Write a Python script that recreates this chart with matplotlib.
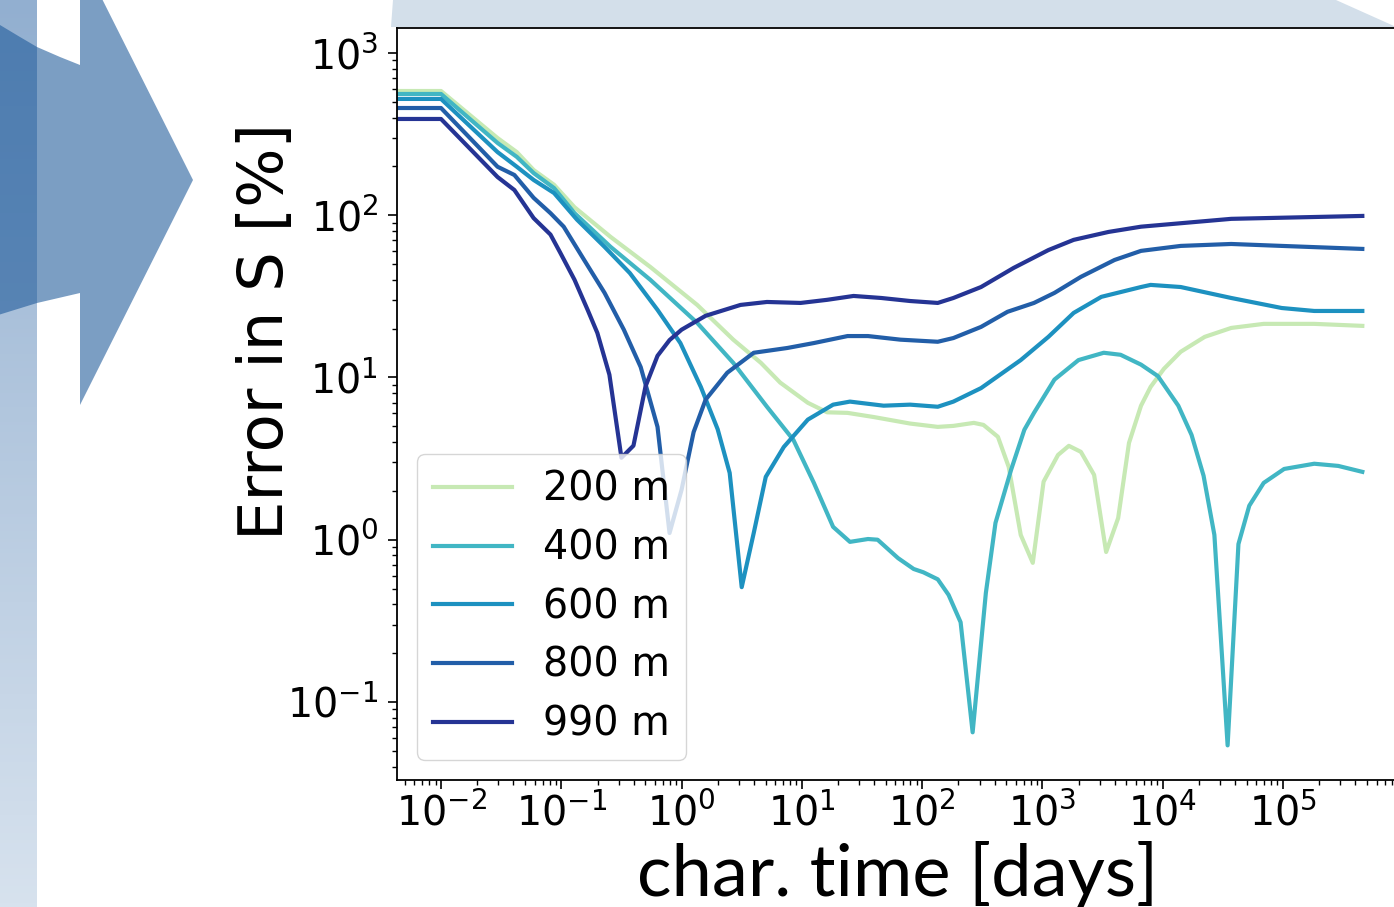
import matplotlib
matplotlib.use('Agg')
import matplotlib.pyplot as plt
import numpy as np
from matplotlib.colors import LinearSegmentedColormap
from matplotlib.patches import Polygon

W, H = 1394, 907

# characteristic time is stored as log10(days), error in percent
logt_200m = [-2.4, -2.0, -1.53, -1.37, -1.23, -1.06, -0.89, -0.59, -0.26, 0.13,
             0.43, 0.66, 0.82, 1.05, 1.21, 1.38, 1.60, 1.90, 2.13, 2.26, 2.43,
             2.51, 2.63, 2.72, 2.82, 2.92, 3.01, 3.13, 3.22, 3.32, 3.43, 3.53,
             3.63, 3.72, 3.82, 3.90, 4.01, 4.15, 4.35, 4.57, 4.84, 5.26, 5.66]
err_200m = [583, 583, 299, 245, 190, 154, 112, 73.5, 48, 28,
            17.1, 12.3, 9.3, 6.98, 6.1, 6.05, 5.7, 5.2, 4.96, 5.03, 5.25,
            5.1, 4.31, 2.81, 1.07, 0.72, 2.28, 3.33, 3.79, 3.48, 2.51, 0.84,
            1.36, 3.95, 6.7, 8.75, 11.3, 14.4, 17.8, 20.2, 21.4, 21.4, 20.8]

logt_400m = [-2.4, -2.0, -1.53, -1.37, -1.23, -1.06, -0.89, -0.59, -0.26, 0.13,
             0.43, 0.71, 0.93, 1.10, 1.26, 1.40, 1.55, 1.63, 1.80, 1.93, 2.01,
             2.13, 2.22, 2.32, 2.42, 2.53, 2.61, 2.74, 2.85, 2.93, 3.10, 3.30,
             3.51, 3.65, 3.82, 3.96, 4.13, 4.24, 4.34, 4.43, 4.54, 4.63, 4.72,
             4.84, 5.01, 5.26, 5.46, 5.66]
err_400m = [559, 559, 279, 229, 182, 147, 103, 63.8, 40, 21.7,
            12.3, 6.6, 4.12, 2.24, 1.20, 0.97, 1.01, 1.0, 0.77, 0.66, 0.63,
            0.57, 0.457, 0.31, 0.065, 0.47, 1.27, 2.70, 4.76, 6.05, 9.7, 12.8,
            14.2, 13.8, 12.0, 10.2, 6.7, 4.43, 2.48, 1.07, 0.054, 0.94, 1.62,
            2.24, 2.73, 2.94, 2.85, 2.62]

logt_600m = [-2.4, -2.0, -1.53, -1.37, -1.23, -1.06, -0.87, -0.64, -0.43, -0.20,
             -0.01, 0.16, 0.30, 0.40, 0.50, 0.60, 0.70, 0.85, 1.05, 1.26, 1.40,
             1.68, 1.90, 2.13, 2.26, 2.49, 2.82, 3.05, 3.26, 3.49, 3.82, 3.90,
             4.15, 4.57, 4.99, 5.26, 5.66]
err_600m = [521, 521, 245, 199, 165, 137, 94, 63.8, 44, 26.1,
            16.3, 8.75, 4.8, 2.58, 0.51, 1.1, 2.44, 3.73, 5.5, 6.8, 7.1,
            6.7, 6.8, 6.6, 7.1, 8.6, 12.8, 17.8, 25, 31.4, 36.1, 37.2,
            36.1, 30.9, 26.8, 25.7, 25.7]

logt_800m = [-2.4, -2.0, -1.53, -1.39, -1.23, -1.09, -0.98, -0.81, -0.64, -0.48,
             -0.34, -0.20, -0.10, 0.0, 0.10, 0.20, 0.38, 0.60, 0.88, 1.10, 1.38,
             1.55, 1.82, 2.13, 2.26, 2.49, 2.71, 2.93, 3.10, 3.32, 3.60, 3.82,
             4.15, 4.57, 4.99, 5.66]
err_800m = [458, 458, 199, 177, 128, 103, 85, 53, 33.2, 19.7,
            11.6, 4.96, 1.1, 2.03, 4.6, 7.3, 10.7, 14.2, 15.2, 16.3, 18.0,
            18.0, 17.1, 16.6, 17.5, 20.5, 25.4, 28.8, 33.2, 41.7, 53, 60.3,
            64.7, 66.5, 64.7, 62]

logt_990m = [-2.4, -2.0, -1.53, -1.39, -1.23, -1.09, -1.01, -0.89, -0.78, -0.70,
             -0.60, -0.50, -0.40, -0.30, -0.20, -0.10, 0.0, 0.20, 0.49, 0.71,
             0.99, 1.21, 1.43, 1.66, 1.90, 2.13, 2.26, 2.49, 2.76, 3.05, 3.26,
             3.55, 3.82, 4.57, 5.66]
err_990m = [392, 392, 172, 143, 96, 76, 59, 40, 26, 18.8,
            10.4, 3.2, 3.8, 8.8, 13.6, 17, 19.7, 24, 28, 29.2,
            28.8, 30.1, 31.8, 30.9, 29.6, 28.8, 30.9, 36.1, 47.3, 61, 70.5,
            78.9, 85, 95, 99]

depths = ['200 m', '400 m', '600 m', '800 m', '990 m']
series = [(logt_200m, err_200m), (logt_400m, err_400m), (logt_600m, err_600m),
          (logt_800m, err_800m), (logt_990m, err_990m)]
colors = ['#c7e9b4', '#41b6c4', '#1d91c0', '#225ea8', '#253494']


def px(x, y):
    """pixel position (y from top) -> figure fraction"""
    return (x / W, 1 - y / H)


plt.rcParams['font.size'] = 28.5
fig = plt.figure(figsize=(W / 100, H / 100), dpi=100)

# fading strip on the far left
strip = fig.add_axes([0, 0, 37 / W, 1])
grad = np.linspace(0, 1, 256).reshape(-1, 1)
strip_cmap = LinearSegmentedColormap.from_list('strip', ['#92afd0', '#d7e2ee'])
strip.imshow(grad, aspect='auto', cmap=strip_cmap, extent=[0, 1, 0, 1])
strip.axis('off')

# arrow pointing into the plot
arrow_pts = [(-5, 22), (0, 25), (20, 37), (37, 47), (60, 57), (80, 65),
             (80, -45), (193, 180), (80, 405), (80, 293), (37, 303), (-5, 316)]
fig.add_artist(Polygon([px(*p) for p in arrow_pts], closed=True,
                       transform=fig.transFigure, facecolor='#1c5899',
                       edgecolor='none', alpha=0.58))

# header band above the axes
band_pts = [(391, 27), (393, 0), (1336, 0), (1394, 26), (1394, 27)]
fig.add_artist(Polygon([px(*p) for p in band_pts], closed=True,
                       transform=fig.transFigure, facecolor='#d3dfea',
                       edgecolor='none'))

ax_w = 1396 - 397
ax = fig.add_axes([397 / W, (H - 780) / H, ax_w / W, 752 / H])
for label, (lt, err), c in zip(depths, series, colors):
    ax.plot(10 ** np.array(lt), err, color=c, lw=3, label=label)

ax.set_xscale('log')
ax.set_yscale('log')
ax.set_xlim(10 ** -2.366, 10 ** 5.94)
ax.set_ylim(10 ** -1.481, 10 ** 3.154)
for s in ax.spines.values():
    s.set_linewidth(1.3)
ax.tick_params(which='major', length=6.5, width=1.2, labelsize=28.5)
ax.tick_params(which='minor', length=3.6, width=1.0)
ax.tick_params(axis='y', which='major', pad=7)

ax.set_xlabel('char. time [days]', family='Lato', fontsize=52)
ax.xaxis.label.set_verticalalignment('baseline')
ax.xaxis.set_label_coords((898 - 397) / ax_w, -0.1543)
ax.set_ylabel('Error in S [%]', fontsize=45)
ax.yaxis.set_label_coords((296 - 397) / ax_w, 0.597)

ax.legend(loc='lower left', fontsize=28.5, labelspacing=0.47)

fig.savefig('out.png', dpi=100)
